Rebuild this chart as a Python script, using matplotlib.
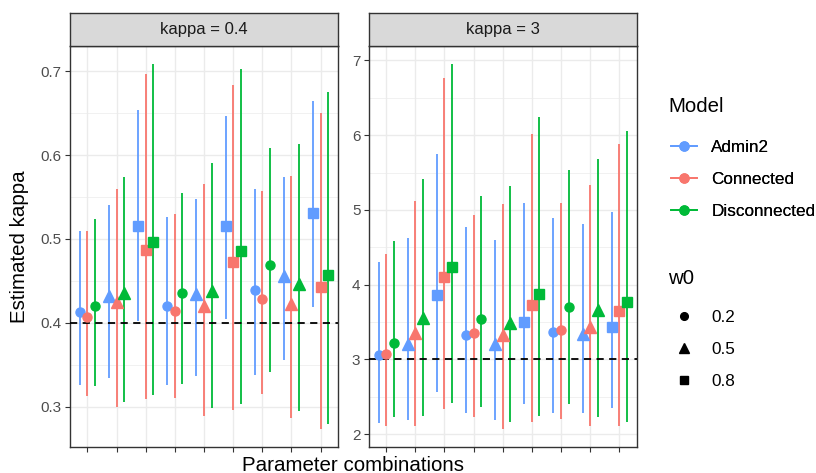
import matplotlib.pyplot as plt
import numpy as np
from matplotlib.lines import Line2D

plt.rcParams['font.family'] = ['Liberation Sans', 'DejaVu Sans']

models = ["Admin2", "Connected", "Disconnected"]
colours = ["#619CFF", "#F8766D", "#00BA38"]
w0_levels = ["0.2", "0.5", "0.8"]
shapes = ["o", "^", "s"]
shape_size = {"o": 6.5, "^": 8.0, "s": 6.8}
combo_w0 = [0, 1, 2, 0, 1, 2, 0, 1, 2]   # w0 level of each parameter combination

# panel kappa = 0.4 (rows: Admin2, Connected, Disconnected)
est_04 = [
    [0.413, 0.432, 0.516, 0.420, 0.434, 0.516, 0.439, 0.456, 0.531],
    [0.407, 0.425, 0.487, 0.414, 0.420, 0.473, 0.428, 0.422, 0.443],
    [0.420, 0.436, 0.496, 0.436, 0.438, 0.486, 0.469, 0.446, 0.457],
]
lo_04 = [
    [0.326, 0.334, 0.402, 0.326, 0.337, 0.405, 0.338, 0.356, 0.419],
    [0.313, 0.300, 0.309, 0.311, 0.289, 0.296, 0.315, 0.286, 0.273],
    [0.325, 0.306, 0.314, 0.327, 0.299, 0.303, 0.341, 0.295, 0.279],
]
hi_04 = [
    [0.510, 0.541, 0.654, 0.526, 0.548, 0.646, 0.559, 0.574, 0.664],
    [0.510, 0.560, 0.697, 0.530, 0.565, 0.683, 0.557, 0.575, 0.650],
    [0.524, 0.574, 0.708, 0.555, 0.591, 0.703, 0.609, 0.613, 0.675],
]

# panel kappa = 3
est_3 = [
    [3.058, 3.210, 3.861, 3.320, 3.205, 3.500, 3.360, 3.340, 3.430],
    [3.075, 3.356, 4.106, 3.356, 3.325, 3.727, 3.390, 3.437, 3.650],
    [3.214, 3.549, 4.240, 3.540, 3.480, 3.874, 3.700, 3.660, 3.770],
]
lo_3 = [
    [2.150, 2.190, 2.567, 2.285, 2.190, 2.400, 2.285, 2.277, 2.344],
    [2.107, 2.107, 2.335, 2.224, 2.067, 2.157, 2.197, 2.107, 2.107],
    [2.224, 2.245, 2.410, 2.366, 2.157, 2.240, 2.400, 2.224, 2.157],
]
hi_3 = [
    [4.300, 4.620, 5.750, 4.770, 4.600, 5.090, 4.896, 4.807, 4.976],
    [4.410, 5.120, 6.770, 4.930, 5.075, 6.010, 5.090, 5.333, 5.880],
    [4.580, 5.410, 6.950, 5.190, 5.325, 6.240, 5.534, 5.677, 6.056],
]

panels = [
    ("kappa = 0.4", 0.4, est_04, lo_04, hi_04, (0.252, 0.730), [0.3, 0.4, 0.5, 0.6, 0.7]),
    ("kappa = 3", 3, est_3, lo_3, hi_3, (1.826, 7.194), [2, 3, 4, 5, 6, 7]),
]

W, H = 816, 473
fig = plt.figure(figsize=(W / 100, H / 100), dpi=100)
fig.patch.set_facecolor("white")

x = np.arange(1, 10)
offsets = [-0.26, 0.0, 0.26]
panel_left = [70, 368.7]
pw, top, bottom = 268, 46, 447

for p, (strip, truth, est, lo, hi, ylim, yticks) in enumerate(panels):
    ax = fig.add_axes([panel_left[p] / W, 1 - bottom / H, pw / W, (bottom - top) / H])
    ax.set_xticks(x)
    ax.set_xticklabels([])
    ax.set_yticks(yticks)
    ax.set_yticklabels([f"{t:g}" for t in yticks])
    step = yticks[1] - yticks[0]
    ax.set_yticks([t - step / 2 for t in yticks] + [yticks[-1] + step / 2], minor=True)
    # limits after the ticks, set_ticks would widen them
    ax.set_xlim(0.4, 9.6)
    ax.set_ylim(*ylim)
    ax.grid(True, which="major", color="#EBEBEB", lw=1.0)
    ax.grid(True, which="minor", axis="y", color="#EBEBEB", lw=0.5)
    ax.set_axisbelow(True)
    ax.tick_params(which="major", length=3.8, width=0.8, color="#333333",
                   labelcolor="#4D4D4D", labelsize=11, pad=2.2)
    ax.tick_params(which="minor", length=0)
    for s in ax.spines.values():
        s.set_color("#333333")
        s.set_linewidth(1.0)

    for m in range(3):
        xs = x + offsets[m]
        ax.vlines(xs, lo[m], hi[m], color=colours[m], lw=1.3, zorder=2)
    ax.axhline(truth, color="black", lw=1.3, ls=(0, (4, 3)), zorder=3)
    for m in range(3):
        xs = x + offsets[m]
        for i in range(9):
            mk = shapes[combo_w0[i]]
            ax.plot(xs[i], est[m][i], marker=mk, ms=shape_size[mk], color=colours[m],
                    mec=colours[m], ls="none", zorder=4)

    sax = fig.add_axes([panel_left[p] / W, 1 - top / H, pw / W, 33 / H])
    sax.set_facecolor("#D9D9D9")
    sax.set_xticks([])
    sax.set_yticks([])
    for s in sax.spines.values():
        s.set_color("#333333")
        s.set_linewidth(1.0)
    sax.text(0.5, 0.5, strip, ha="center", va="center", fontsize=12,
             color="#1A1A1A", transform=sax.transAxes)

fig.text(353 / W, 1 - 471 / H, "Parameter combinations", ha="center", va="baseline",
         fontsize=14.8, color="black")
fig.text(20 / W, 1 - 246.5 / H, "Estimated kappa", ha="center", va="center",
         rotation=90, fontsize=14.8, color="black")

# legends (titles placed separately so the gap to the keys matches)
fig.text(668 / W, 1 - 106.5 / H, "Model", ha="left", va="center", fontsize=14.7)
model_handles = [Line2D([], [], color=c, lw=1.3, marker="o", ms=6.5) for c in colours]
leg1 = fig.legend(model_handles, models, loc="upper left",
                  bbox_to_anchor=(671 / W, 1 - 140 / H), frameon=False, fontsize=12.3,
                  handlelength=1.55, handletextpad=0.8,
                  labelspacing=1.0, borderpad=0, borderaxespad=0)
fig.add_artist(leg1)

fig.text(668 / W, 1 - 279 / H, "w0", ha="left", va="center", fontsize=14.7)
shape_handles = [Line2D([], [], color="black", marker=s, ls="none", ms=shape_size[s] * 0.85)
                 for s in shapes]
fig.legend(shape_handles, w0_levels, loc="upper left",
           bbox_to_anchor=(671 / W, 1 - 310 / H), frameon=False, fontsize=12.3,
           handlelength=1.55, handletextpad=0.8,
           labelspacing=1.0, borderpad=0, borderaxespad=0)

fig.savefig("out.png", dpi=100)
